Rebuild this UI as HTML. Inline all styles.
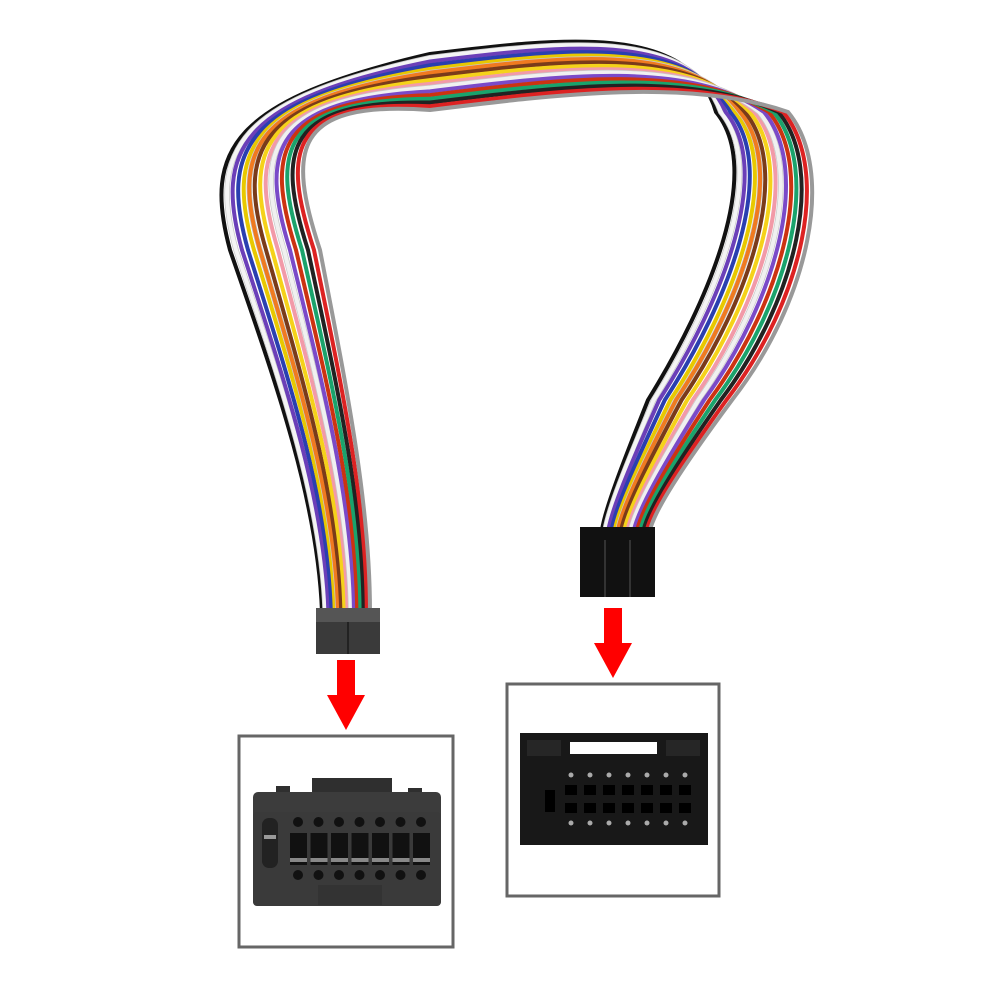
<!DOCTYPE html>
<html><head><meta charset="utf-8"><style>html,body{margin:0;padding:0;background:#fff}svg{display:block}</style></head>
<body>
<svg id="s" width="1000" height="1000" viewBox="0 0 1000 1000" xmlns="http://www.w3.org/2000/svg">
<g id="w" fill="none" stroke-linecap="round"></g>
<rect x="316" y="608" width="64" height="46" fill="#3a3a3a"/>
<rect x="316" y="608" width="64" height="14" fill="#555"/>
<line x1="348" y1="622" x2="348" y2="654" stroke="#222" stroke-width="2"/>
<rect x="580" y="527" width="75" height="70" fill="#111"/>
<line x1="605" y1="540" x2="605" y2="597" stroke="#333" stroke-width="2"/>
<line x1="630" y1="540" x2="630" y2="597" stroke="#333" stroke-width="2"/>
<rect x="337" y="660" width="18" height="35" fill="#f00"/>
<polygon points="327,695 365,695 346,730" fill="#f00"/>
<rect x="604" y="608" width="18" height="35" fill="#f00"/>
<polygon points="594,643 632,643 613,678" fill="#f00"/>
<rect x="239" y="736" width="214" height="211" fill="#fff" stroke="#666" stroke-width="3"/>
<rect x="507" y="684" width="212" height="212" fill="#fff" stroke="#666" stroke-width="3"/>
<rect x="312" y="778" width="80" height="18" fill="#2f2f2f"/>
<rect x="276" y="786" width="14" height="12" fill="#2f2f2f"/>
<rect x="408" y="788" width="14" height="12" fill="#2f2f2f"/>
<rect x="253" y="792" width="188" height="114" rx="5" fill="#3c3c3c"/>
<rect x="253" y="812" width="188" height="94" rx="4" fill="#3a3a3a"/>
<rect x="318" y="885" width="64" height="20" fill="#333"/>
<g id="lp"></g>
<rect x="520" y="733" width="188" height="112" fill="#181818"/>
<rect x="570" y="742" width="87" height="12" fill="#fff"/>
<rect x="527" y="740" width="34" height="16" fill="#262626"/>
<rect x="666" y="740" width="34" height="16" fill="#262626"/>
<g id="rp"></g>
</svg>
<script>
var cols=["#111","#f5d21a","#d22","#f07a20","#1aa36c","#2a3fb0","#7a4ac8","#f4f4f4","#f29aa8","#999","#7a3b1a","#222","#e8c800","#c31","#6b3fb8","#f0f0f0"];
var g=document.getElementById('w'),n=cols.length,h='';
for(var i=0;i<n;i++){var s=-1+2*i/(n-1),c=cols[(i*7)%n];
var d="M"+(346+24*s)+",612 C"+(344+26*s)+",500 "+(310+35*s)+",380 "+(275+45*s)+",250 C"+(245+42*s)+",150 "+(262+30*s)+",100 "+(430)+","+(82+28*s)+" C560,"+(66+28*s)+" 690,"+(50+28*s)+" "+(752+36*s)+",112 C"+(800+36*s)+",170 "+(760+50*s)+",300 "+(690+42*s)+",400 C"+(650+30*s)+",470 "+(630+25*s)+",510 "+(626+24*s)+",530";
if(c.indexOf("#f4")==0||c.indexOf("#f0")==0)h+='<path d="'+d+'" stroke="#c8c8c8" stroke-width="5.5"/>';
h+='<path d="'+d+'" stroke="'+c+'" stroke-width="4"/>';}
g.innerHTML=h;
var lp='';for(var k=0;k<7;k++){var x=290+k*20.5;
lp+='<circle cx="'+(x+8)+'" cy="822" r="5" fill="#111"/><rect x="'+x+'" y="833" width="17" height="32" fill="#111"/><rect x="'+x+'" y="858" width="17" height="4" fill="#888"/><circle cx="'+(x+8)+'" cy="875" r="5" fill="#111"/>';}
lp+='<rect x="262" y="818" width="16" height="50" rx="7" fill="#222"/><rect x="264" y="835" width="12" height="4" fill="#999"/>';
document.getElementById('lp').innerHTML=lp;
var rp='';for(var k=0;k<7;k++){var x=565+k*19;
rp+='<circle cx="'+(x+6)+'" cy="775" r="2.5" fill="#aaa"/><rect x="'+x+'" y="785" width="12" height="10" fill="#000"/><rect x="'+x+'" y="803" width="12" height="10" fill="#000"/><circle cx="'+(x+6)+'" cy="823" r="2.5" fill="#aaa"/>';}
rp+='<rect x="545" y="790" width="10" height="22" fill="#000"/>';
document.getElementById('rp').innerHTML=rp;
</script>
</body></html>
